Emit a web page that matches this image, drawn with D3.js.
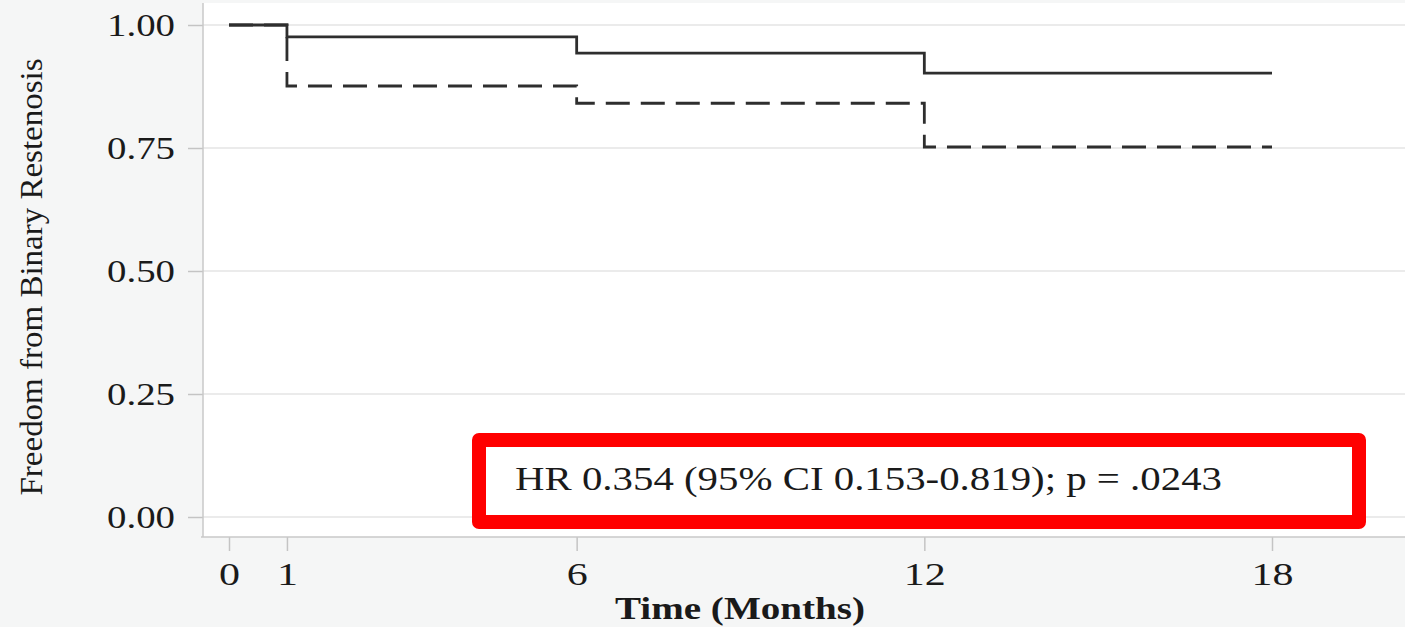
<!DOCTYPE html>
<html>
<head>
<meta charset="utf-8">
<script src="https://cdn.jsdelivr.net/npm/d3@7"></script>
<style>
  html, body { margin: 0; padding: 0; background: #f5f6f6; }
  svg { display: block; }
  text { font-family: "Liberation Serif", "Times New Roman", serif; fill: #1a1a1a; }
</style>
</head>
<body>
<svg id="chart" width="1405" height="627"></svg>
<script>
// ---- data ----
const months = [0, 1, 6, 12, 18];
const solidSurvival = [1.00, 0.976, 0.943, 0.902, 0.902];
const dashedSurvival = [1.00, 0.876, 0.841, 0.752, 0.752];
const xTickValues = [0, 1, 6, 12, 18];
const yTickValues = [0, 0.25, 0.5, 0.75, 1.0];
const yLabel = "Freedom from Binary Restenosis";
const xLabel = "Time (Months)";
const annotation = "HR 0.354 (95% CI 0.153-0.819); p = .0243";

// ---- layout ----
const plotLeft = 203, plotTop = 3, plotBottom = 537, plotRight = 1405;
const serif = "'Liberation Serif', 'Times New Roman', serif";

const svg = d3.select("#chart");

const x = d3.scaleLinear().domain([0, 18]).range([229, 1272]);
const y = d3.scaleLinear().domain([0, 1]).range([517, 25]);

// plot background
svg.append("rect")
  .attr("x", plotLeft).attr("y", plotTop)
  .attr("width", plotRight - plotLeft).attr("height", plotBottom - plotTop)
  .attr("fill", "#ffffff");

// gridlines
svg.append("g").selectAll("line")
  .data(yTickValues).join("line")
  .attr("x1", plotLeft).attr("x2", plotRight)
  .attr("y1", d => y(d)).attr("y2", d => y(d))
  .attr("stroke", "#ebebeb").attr("stroke-width", 2);

// y axis
const yAxis = d3.axisLeft(y).tickValues(yTickValues)
  .tickFormat(d3.format(".2f")).tickSize(15).tickPadding(13);
const gy = svg.append("g").attr("transform", `translate(${plotLeft},0)`).call(yAxis);
gy.attr("font-family", serif);
gy.select(".domain").remove();
gy.selectAll(".tick line").attr("stroke", "#c4c4c4").attr("stroke-width", 1.5);
gy.selectAll(".tick text")
  .attr("font-size", 32).attr("font-family", serif)
  .attr("fill", "#1a1a1a")
  .attr("textLength", 68).attr("lengthAdjust", "spacingAndGlyphs")
  .attr("dy", "0.33em");

// left axis line
svg.append("line")
  .attr("x1", plotLeft).attr("x2", plotLeft)
  .attr("y1", plotTop).attr("y2", plotBottom)
  .attr("stroke", "#c8c8c8").attr("stroke-width", 1.5);

// x axis
const xAxis = d3.axisBottom(x).tickValues(xTickValues)
  .tickFormat(d3.format("d")).tickSize(14).tickPadding(11);
const gx = svg.append("g").attr("transform", `translate(0,${plotBottom})`).call(xAxis);
gx.attr("font-family", serif);
gx.select(".domain").remove();
gx.selectAll(".tick line").attr("stroke", "#c4c4c4").attr("stroke-width", 1.5);
gx.selectAll(".tick text")
  .attr("font-size", 32).attr("font-family", serif)
  .attr("fill", "#1a1a1a")
  .attr("textLength", d => String(d).length * 21)
  .attr("lengthAdjust", "spacingAndGlyphs");

svg.append("line")
  .attr("x1", plotLeft - 2).attr("x2", plotRight)
  .attr("y1", plotBottom).attr("y2", plotBottom)
  .attr("stroke", "#c8c8c8").attr("stroke-width", 1.5);

// survival curves
const line = d3.line()
  .x((d, i) => x(months[i]))
  .y(d => y(d))
  .curve(d3.curveStepAfter);

svg.append("path")
  .datum(dashedSurvival)
  .attr("d", line)
  .attr("fill", "none")
  .attr("stroke", "#2e2e2e")
  .attr("stroke-width", 2.8)
  .attr("stroke-dasharray", "24,11");

svg.append("path")
  .datum(solidSurvival)
  .attr("d", line)
  .attr("fill", "none")
  .attr("stroke", "#2e2e2e")
  .attr("stroke-width", 2.8);

// axis titles
svg.append("text")
  .attr("x", 740).attr("y", 619)
  .attr("text-anchor", "middle")
  .attr("font-size", 31).attr("font-weight", "bold")
  .attr("textLength", 250).attr("lengthAdjust", "spacingAndGlyphs")
  .text(xLabel);

svg.append("text")
  .attr("transform", "translate(42,277) rotate(-90)")
  .attr("text-anchor", "middle")
  .attr("font-size", 31)
  .attr("textLength", 437).attr("lengthAdjust", "spacingAndGlyphs")
  .text(yLabel);

// annotation box
svg.append("rect")
  .attr("x", 479).attr("y", 440)
  .attr("width", 880).attr("height", 82)
  .attr("fill", "#ffffff")
  .attr("stroke", "#ff0000").attr("stroke-width", 14)
  .attr("stroke-linejoin", "round");

svg.append("text")
  .attr("x", 515).attr("y", 490)
  .attr("font-size", 34)
  .attr("textLength", 707).attr("lengthAdjust", "spacingAndGlyphs")
  .text(annotation);
</script>
</body>
</html>
